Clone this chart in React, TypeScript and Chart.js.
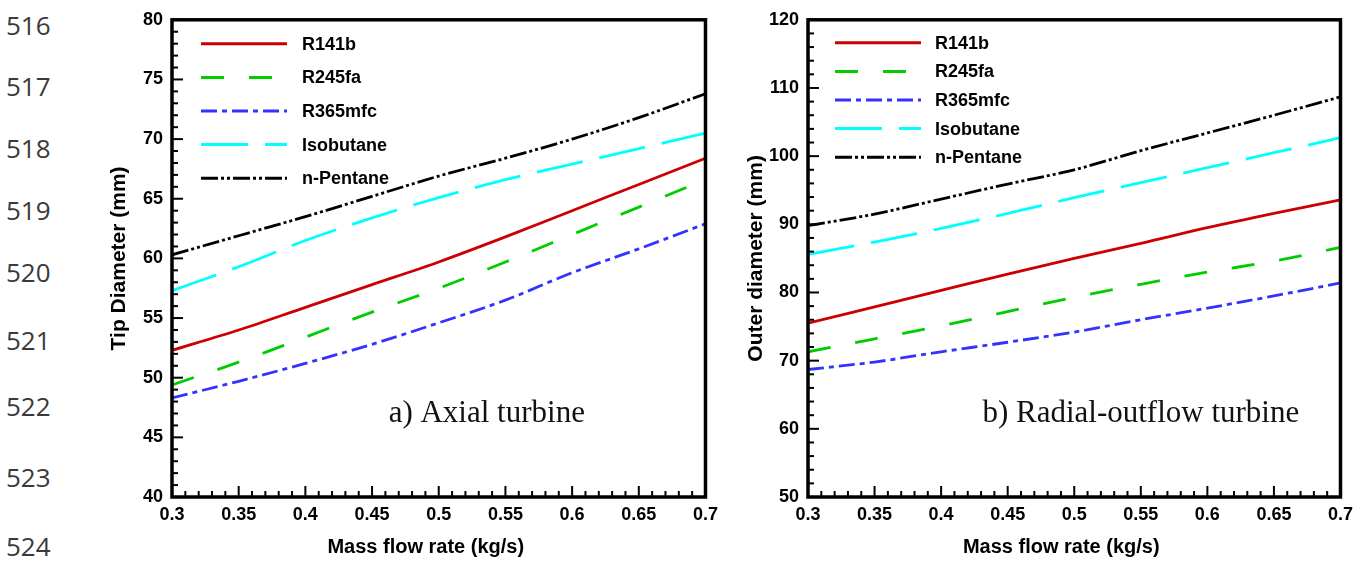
import React, { useEffect, useRef } from 'react';
import { Chart, registerables } from 'chart.js';

Chart.register(...registerables);

// ---------- data ----------
const massFlow = [0.3, 0.35, 0.4, 0.45, 0.5, 0.55, 0.6, 0.65, 0.7];
const seriesNames = ['R141b', 'R245fa', 'R365mfc', 'Isobutane', 'n-Pentane'];

// a) Axial turbine - tip diameter (mm)
const axialR141b = [52.3, 54.0, 55.9, 57.8, 59.7, 61.8, 64.0, 66.2, 68.4];
const axialR245fa = [49.4, 51.3, 53.4, 55.5, 57.5, 59.7, 62.0, 64.3, 66.6];
const axialR365mfc = [48.3, 49.7, 51.2, 52.8, 54.6, 56.5, 58.8, 60.8, 62.9];
const axialIsobutane = [57.3, 59.3, 61.5, 63.4, 65.1, 66.6, 67.9, 69.2, 70.5];
const axialPentane = [60.3, 61.9, 63.5, 65.2, 66.9, 68.4, 70.0, 71.8, 73.8];

// b) Radial-outflow turbine - outer diameter (mm)
const radialR141b = [75.5, 77.9, 80.3, 82.7, 85.0, 87.2, 89.5, 91.6, 93.6];
const radialR245fa = [71.3, 73.2, 75.1, 77.2, 79.3, 81.2, 83.0, 84.6, 86.6];
const radialR365mfc = [68.7, 69.8, 71.3, 72.7, 74.2, 76.0, 77.7, 79.5, 81.4];
const radialIsobutane = [85.6, 87.4, 89.4, 91.6, 93.9, 96.1, 98.3, 100.5, 102.7];
const radialPentane = [89.8, 91.5, 93.7, 95.9, 98.0, 100.8, 103.4, 106.0, 108.7];

// tick labels
const xTicks = [0.3, 0.35, 0.4, 0.45, 0.5, 0.55, 0.6, 0.65, 0.7];
const yTicksAxial = [40, 45, 50, 55, 60, 65, 70, 75, 80];
const yTicksRadial = [50, 60, 70, 80, 90, 100, 110, 120];
const lineNumbers = ['516', '517', '518', '519', '520', '521', '522', '523', '524'];
const xTitle = 'Mass flow rate (kg/s)';

// ---------- styles ----------
const lineNumberCenters = [25, 86, 148, 210, 272, 340, 406, 477, 546];
const seriesColors = ['#cc0000', '#00cc00', '#3333ff', '#00ffff', '#000000'];
const seriesDashes: number[][] = [[], [23, 25], [16, 5, 5, 5], [47, 17], [17, 3, 3, 3, 3, 3]];
const SANS = '"Liberation Sans", Arial, sans-serif';

const framePlugin = {
  id: 'frame',
  afterDatasetsDraw(chart: any, _args: any, o: any) {
    const { ctx, chartArea: a, scales } = chart;
    const xs = scales.x;
    const ys = scales.y;
    ctx.save();
    ctx.setLineDash([]);
    ctx.strokeStyle = '#000';
    ctx.lineCap = 'butt';
    const seg = (x1: number, y1: number, x2: number, y2: number) => {
      ctx.beginPath();
      ctx.moveTo(x1, y1);
      ctx.lineTo(x2, y2);
      ctx.stroke();
    };
    // inward ticks on bottom and left axes
    ctx.lineWidth = 2;
    const xStepMinor = o.xMinor;
    for (let i = 0; i <= Math.round((xs.max - xs.min) / xStepMinor); i++) {
      const v = xs.min + i * xStepMinor;
      const px = xs.getPixelForValue(v);
      const isMajor = xTicks.some((t) => Math.abs(t - v) < 1e-6);
      seg(px, a.bottom, px, a.bottom - (isMajor ? 11 : 6));
    }
    const yStepMinor = o.yMinor;
    for (let i = 0; i <= Math.round((ys.max - ys.min) / yStepMinor); i++) {
      const v = ys.min + i * yStepMinor;
      const py = ys.getPixelForValue(v);
      const isMajor = o.yMajor.some((t: number) => Math.abs(t - v) < 1e-6);
      seg(a.left, py, a.left + (isMajor ? 11 : 6), py);
    }
    // frame
    ctx.lineWidth = 3.5;
    ctx.strokeRect(a.left, a.top, a.right - a.left, a.bottom - a.top);

    // legend
    const lg = o.legend;
    chart.data.datasets.forEach((ds: any, i: number) => {
      const yy = a.top + lg.top + i * lg.gap;
      const x0 = a.left + lg.left;
      ctx.beginPath();
      ctx.setLineDash(ds.borderDash || []);
      ctx.lineWidth = 3;
      ctx.strokeStyle = ds.borderColor;
      ctx.moveTo(x0, yy);
      ctx.lineTo(x0 + lg.len, yy);
      ctx.stroke();
      ctx.setLineDash([]);
      ctx.fillStyle = '#000';
      ctx.font = 'bold 18px ' + SANS;
      ctx.textAlign = 'left';
      ctx.textBaseline = 'middle';
      ctx.fillText(ds.label, x0 + lg.textOffset, yy + 1);
    });

    // x-axis title (slightly left of centre, as in the original)
    ctx.fillStyle = '#000';
    ctx.font = 'bold 20px ' + SANS;
    ctx.textAlign = 'center';
    ctx.textBaseline = 'middle';
    ctx.fillText(xTitle, (a.left + a.right) / 2 - 13, a.bottom + 50);

    // annotation
    const an = o.annotation;
    ctx.fillStyle = '#111';
    ctx.font = '31px "Liberation Serif", "Times New Roman", serif';
    ctx.textAlign = 'center';
    ctx.textBaseline = 'middle';
    ctx.fillText(an.text, xs.getPixelForValue(an.x), ys.getPixelForValue(an.y));
    ctx.restore();
  },
};

type PanelProps = {
  left: number;
  yAxisWidth: number;
  rightPad: number;
  yMin: number;
  yMax: number;
  yMajor: number[];
  yMinor: number;
  yTitle: string;
  yTitlePad: number;
  series: number[][];
  legend: any;
  annotation: any;
};

function Panel(p: PanelProps) {
  const ref = useRef<HTMLCanvasElement | null>(null);
  useEffect(() => {
    if (!ref.current) return;
    const tickFont = { family: SANS, weight: 'bold' as const, size: 18 };
    const titleFont = { family: SANS, weight: 'bold' as const, size: 21 };
    const chart = new Chart(ref.current, {
      type: 'line',
      data: {
        datasets: p.series.map((vals, i) => ({
          label: seriesNames[i],
          data: massFlow.map((x, j) => ({ x, y: vals[j] })),
          borderColor: seriesColors[i],
          backgroundColor: seriesColors[i],
          borderDash: seriesDashes[i],
          borderWidth: 2.8,
          pointRadius: 0,
          fill: false,
          cubicInterpolationMode: 'monotone' as const,
        })),
      },
      options: {
        animation: false,
        responsive: false,
        devicePixelRatio: 1,
        layout: { padding: { top: 11, right: p.rightPad, left: 0, bottom: 0 } },
        plugins: {
          legend: { display: false },
          tooltip: { enabled: false },
          frame: {
            xMinor: 0.01,
            yMinor: p.yMinor,
            yMajor: p.yMajor,
            legend: p.legend,
            annotation: p.annotation,
          },
        } as any,
        scales: {
          x: {
            type: 'linear',
            min: 0.3,
            max: 0.7,
            afterBuildTicks: (s: any) => {
              s.ticks = xTicks.map((v) => ({ value: v }));
            },
            afterFit: (s: any) => {
              s.height = 66;
            },
            grid: { display: false, drawTicks: false },
            border: { display: false },
            ticks: {
              padding: 7,
              color: '#000',
              font: tickFont,
              maxRotation: 0,
              autoSkip: false,
              callback: (v: any) => String(Number(Number(v).toFixed(2))),
            },
            title: { display: false },
          },
          y: {
            type: 'linear',
            min: p.yMin,
            max: p.yMax,
            afterBuildTicks: (s: any) => {
              s.ticks = p.yMajor.map((v) => ({ value: v }));
            },
            afterFit: (s: any) => {
              s.width = p.yAxisWidth;
            },
            grid: { display: false, drawTicks: false },
            border: { display: false },
            ticks: { padding: 9, color: '#000', font: tickFont, autoSkip: false },
            title: {
              display: true,
              text: p.yTitle,
              color: '#000',
              font: titleFont,
              padding: { top: p.yTitlePad, bottom: 0 },
            },
          },
        },
      },
      plugins: [framePlugin],
    } as any);
    return () => chart.destroy();
  }, []);
  return (
    <canvas
      ref={ref}
      width={630}
      height={563}
      style={{ position: 'absolute', left: p.left, top: 0, width: 630, height: 563 }}
    />
  );
}

export default function App() {
  return (
    <div style={{ position: 'absolute', left: 0, top: 0, width: 1365, height: 563, background: '#fff', overflow: 'hidden' }}>
      {lineNumbers.map((n, i) => (
        <div
          key={n}
          style={{
            position: 'absolute',
            left: 6,
            top: lineNumberCenters[i] - 18,
            height: 36,
            lineHeight: '36px',
            fontFamily: '"Open Sans", "Liberation Sans", sans-serif',
            fontSize: 26,
            color: '#3a3a3a',
          }}
        >
          {n}
        </div>
      ))}
      <Panel
        left={95}
        yAxisWidth={77}
        rightPad={18}
        yMin={40}
        yMax={80}
        yMajor={yTicksAxial}
        yMinor={1}
        yTitle="Tip Diameter (mm)"
        yTitlePad={12}
        series={[axialR141b, axialR245fa, axialR365mfc, axialIsobutane, axialPentane]}
        legend={{ left: 29, top: 24, gap: 33.6, len: 86, textOffset: 101 }}
        annotation={{ text: 'a) Axial turbine', x: 0.536, y: 47.0 }}
      />
      <Panel
        left={730}
        yAxisWidth={78}
        rightPad={18}
        yMin={50}
        yMax={120}
        yMajor={yTicksRadial}
        yMinor={2}
        yTitle="Outer diameter (mm)"
        yTitlePad={14}
        series={[radialR141b, radialR245fa, radialR365mfc, radialIsobutane, radialPentane]}
        legend={{ left: 27, top: 23, gap: 28.6, len: 86, textOffset: 100 }}
        annotation={{ text: 'b) Radial-outflow turbine', x: 0.55, y: 62.2 }}
      />
    </div>
  );
}
